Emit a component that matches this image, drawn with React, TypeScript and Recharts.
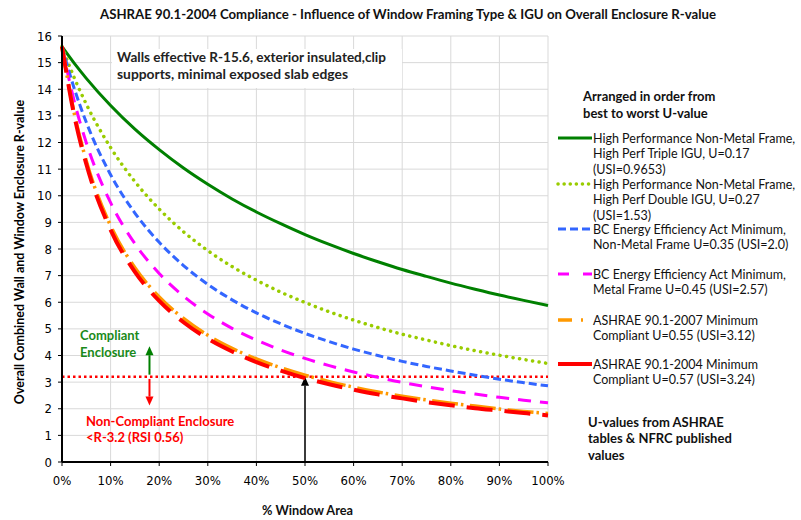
import { LineChart, Line, XAxis, YAxis, CartesianGrid, ReferenceLine } from 'recharts';

// % window area (x) and the overall R-value
const windowPct = [0, 2.5, 5, 10, 15, 20, 25, 30, 35, 40, 45, 50, 55, 60, 65, 70, 75, 80, 85, 90, 95, 100];
const tripleIgu = [15.6, 14.98, 14.41, 13.39, 12.5, 11.73, 11.04, 10.43, 9.88, 9.39, 8.95, 8.54, 8.17, 7.83, 7.52, 7.23, 6.97, 6.72, 6.49, 6.27, 6.07, 5.88];
const doubleIgu = [15.6, 14.44, 13.44, 11.81, 10.53, 9.5, 8.65, 7.94, 7.34, 6.83, 6.38, 5.99, 5.64, 5.33, 5.05, 4.8, 4.58, 4.37, 4.18, 4.01, 3.85, 3.7];
const bcNonMetal = [15.6, 14.04, 12.76, 10.79, 9.35, 8.25, 7.38, 6.67, 6.09, 5.6, 5.19, 4.83, 4.52, 4.24, 4.0, 3.78, 3.59, 3.42, 3.26, 3.11, 2.98, 2.86];
const bcMetal = [15.6, 13.56, 11.99, 9.74, 8.2, 7.08, 6.23, 5.56, 5.02, 4.58, 4.21, 3.89, 3.62, 3.38, 3.18, 2.99, 2.83, 2.68, 2.55, 2.43, 2.32, 2.22];
const ashrae2007 = [15.6, 13.11, 11.31, 8.87, 7.3, 6.2, 5.39, 4.76, 4.27, 3.87, 3.54, 3.26, 3.02, 2.81, 2.63, 2.47, 2.33, 2.21, 2.1, 1.99, 1.9, 1.82];
const ashrae2004 = [15.6, 13.03, 11.19, 8.72, 7.14, 6.05, 5.25, 4.63, 4.15, 3.75, 3.43, 3.15, 2.92, 2.72, 2.54, 2.39, 2.25, 2.13, 2.02, 1.93, 1.84, 1.75];

const xTicks = [0, 10, 20, 30, 40, 50, 60, 70, 80, 90, 100];
const yTicks = [0, 1, 2, 3, 4, 5, 6, 7, 8, 9, 10, 11, 12, 13, 14, 15, 16];
const complianceLimit = 3.2;

const data = windowPct.map((pct, i) => ({
  pct,
  triple: tripleIgu[i],
  double: doubleIgu[i],
  bcNm: bcNonMetal[i],
  bcM: bcMetal[i],
  a2007: ashrae2007[i],
  a2004: ashrae2004[i],
}));

const FONT = "'Liberation Sans Narrow', 'DejaVu Sans Condensed', sans-serif";
const LEG_FONT = "Lato, 'Noto Sans', sans-serif";

const arrow = (color: string, w: number) => (props: any) => {
  const { x1, y1, x2, y2 } = props;
  const ang = Math.atan2(y2 - y1, x2 - x1);
  const len = 9, half = 4;
  const bx = x2 - len * Math.cos(ang), by = y2 - len * Math.sin(ang);
  const px = -Math.sin(ang) * half, py = Math.cos(ang) * half;
  return (
    <g>
      <line x1={x1} y1={y1} x2={bx} y2={by} stroke={color} strokeWidth={w} />
      <polygon points={`${x2},${y2} ${bx + px},${by + py} ${bx - px},${by - py}`} fill={color} />
    </g>
  );
};

const legendItems = [
  { color: '#008000', dash: undefined, width: 3, cap: 'butt', y: 138, lines: ['High Performance Non-Metal Frame,', 'High Perf Triple IGU, U=0.17', '(USI=0.9653)'] },
  { color: '#99cc00', dash: '0.1 6', width: 3.5, cap: 'round', y: 184, lines: ['High Performance Non-Metal Frame,', 'High Perf Double IGU, U=0.27', '(USI=1.53)'] },
  { color: '#3366ff', dash: '8 4', width: 3, cap: 'butt', y: 229, lines: ['BC Energy Efficiency Act Minimum,', 'Non-Metal Frame U=0.35 (USI=2.0)'] },
  { color: '#ff00ff', dash: '11 14', width: 3, cap: 'butt', y: 274, lines: ['BC Energy Efficiency Act Minimum,', 'Metal Frame U=0.45 (USI=2.57)'] },
  { color: '#ff9900', dash: '14 9 2 9', width: 3.5, cap: 'butt', y: 320, lines: ['ASHRAE 90.1-2007 Minimum', 'Compliant U=0.55 (USI=3.12)'] },
  { color: '#ff0000', dash: undefined, width: 4, cap: 'butt', y: 364, lines: ['ASHRAE 90.1-2004 Minimum', 'Compliant U=0.57 (USI=3.24)'] },
];

export default function App() {
  return (
    <div style={{ position: 'absolute', left: 0, top: 0, width: 801, height: 520, background: '#fff' }}>
      <LineChart width={801} height={520} data={data} margin={{ top: 36, right: 253, left: 32, bottom: 0 }}>
        <CartesianGrid stroke="#d9d9d9" strokeWidth={1} />
        <XAxis
          dataKey="pct"
          type="number"
          domain={[0, 100]}
          ticks={xTicks}
          tickFormatter={(v: number) => `${v}%`}
          height={58}
          axisLine={{ stroke: '#000', strokeWidth: 2 }}
          tickLine={{ stroke: '#000' }}
          tickSize={4}
          tickMargin={10}
          tick={{ fill: '#000', fontSize: 13, fontFamily: FONT }}
        />
        <YAxis
          type="number"
          domain={[0, 16]}
          ticks={yTicks}
          width={30}
          interval={0}
          axisLine={{ stroke: '#000', strokeWidth: 2 }}
          tickLine={{ stroke: '#000' }}
          tickSize={4}
          tickMargin={6}
          tick={{ fill: '#000', fontSize: 13, fontFamily: FONT }}
        />
        <ReferenceLine y={complianceLimit} stroke="#ff0000" strokeWidth={2.5} strokeDasharray="2.5 3" />
        <ReferenceLine segment={[{ x: 50, y: 0 }, { x: 50, y: complianceLimit }]} shape={arrow('#000', 1.5)} />
        <ReferenceLine segment={[{ x: 18, y: 3.28 }, { x: 18, y: 4.35 }]} shape={arrow('#008000', 2)} />
        <ReferenceLine segment={[{ x: 18, y: 3.12 }, { x: 18, y: 2.12 }]} shape={arrow('#ff0000', 2)} />
        <Line dataKey="triple" type="monotone" stroke="#008000" strokeWidth={3} dot={false} isAnimationActive={false} />
        <Line dataKey="double" type="monotone" stroke="#99cc00" strokeWidth={3.5} strokeDasharray="0.1 6.5" strokeLinecap="round" dot={false} isAnimationActive={false} />
        <Line dataKey="bcNm" type="monotone" stroke="#3366ff" strokeWidth={3} strokeDasharray="8 4" dot={false} isAnimationActive={false} />
        <Line dataKey="bcM" type="monotone" stroke="#ff00ff" strokeWidth={3} strokeDasharray="13 9" dot={false} isAnimationActive={false} />
        <Line dataKey="a2007" type="monotone" stroke="#ff9900" strokeWidth={3.5} strokeDasharray="26 3 2.5 6.5" dot={false} isAnimationActive={false} />
        <Line dataKey="a2004" type="monotone" stroke="#ff0000" strokeWidth={4} strokeDasharray="26 12" dot={false} isAnimationActive={false} />
      </LineChart>

      <svg width={801} height={520} style={{ position: 'absolute', left: 0, top: 0, pointerEvents: 'none' }}>
        <text x={100} y={19} textLength={616} lengthAdjust="spacingAndGlyphs" fontFamily={LEG_FONT} fontSize={14} fontWeight="bold" fill="#111">
          ASHRAE 90.1-2004 Compliance - Influence of Window Framing Type &amp; IGU on Overall Enclosure R-value
        </text>
        <text x={262} y={515} textLength={91} lengthAdjust="spacingAndGlyphs" fontFamily={LEG_FONT} fontSize={13} fontWeight="bold" fill="#111">% Window Area</text>
        <text transform="translate(24,252) rotate(-90)" textAnchor="middle" fontFamily={LEG_FONT} fontSize={12.5} fontWeight="bold">
          Overall Combined Wall and Window Enclosure R-value
        </text>

        <rect x={112} y={49} width={290} height={39} fill="#fff" />
        <g fontFamily={LEG_FONT} fontSize={13} fontWeight="bold" fill="#222">
          <text x={117} y={62} textLength={269} lengthAdjust="spacingAndGlyphs">Walls effective R-15.6, exterior insulated,clip</text>
          <text x={117} y={79} textLength={231} lengthAdjust="spacingAndGlyphs">supports, minimal exposed slab edges</text>
        </g>

        <g fontFamily={LEG_FONT} fontSize={13} fontWeight="bold" fill="#1a8a1a">
          <text x={80} y={340}>Compliant</text>
          <text x={80} y={357}>Enclosure</text>
        </g>
        <g fontFamily={LEG_FONT} fontSize={13} fontWeight="bold" fill="#ff0000">
          <text x={86} y={426}>Non-Compliant Enclosure</text>
          <text x={86} y={442}>&lt;R-3.2 (RSI 0.56)</text>
        </g>

        <g fontFamily={LEG_FONT} fontSize={13} fontWeight="bold" fill="#111">
          <text x={583} y={101}>Arranged in order from</text>
          <text x={583} y={118}>best to worst U-value</text>
          <text x={588} y={427}>U-values from ASHRAE</text>
          <text x={588} y={443}>tables &amp; NFRC published</text>
          <text x={588} y={460}>values</text>
        </g>
        {legendItems.map((it) => (
          <g key={it.y}>
            <line x1={558} y1={it.y} x2={592} y2={it.y} stroke={it.color} strokeWidth={it.width} strokeDasharray={it.dash} strokeLinecap={it.cap as any} />
            {it.lines.map((t, k) => (
              <text key={k} x={593} y={it.y + 4.5 + k * 15.5} fontFamily={LEG_FONT} fontSize={12.5} fill="#111">{t}</text>
            ))}
          </g>
        ))}
      </svg>
    </div>
  );
}
